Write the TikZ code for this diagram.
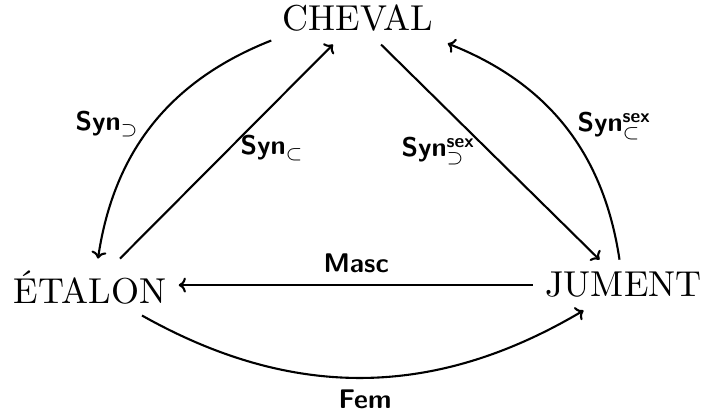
\documentclass[tikz,border=0pt]{standalone}
\usepackage{amsmath}
\usetikzlibrary{arrows.meta}
\begin{document}
\begin{tikzpicture}[x=1pt,y=1pt,
  obj/.style={scale=3.6, anchor=base},
  lab/.style={scale=2.7, anchor=base west, inner sep=0pt, font=\sffamily\bfseries},
  arr/.style={line width=2.1pt, -{Computer Modern Rightarrow[scale=1.15]}}]
\useasboundingbox (0,0) rectangle (705,415);
\node[obj] (cheval) at (358,384) {CHEVAL};
\node[obj] (etalon) at (90,111) {ÉTALON};
\node[obj] (jument) at (623.5,118) {JUMENT};
% arrows
\draw[arr] ([xshift=1pt,yshift=4pt]cheval.south west) to[bend right=30] ([xshift=8pt]etalon.north);
\draw[arr] ([xshift=30pt]etalon.north) -- ([xshift=-25pt]cheval.south);
\draw[arr] ([xshift=23pt]cheval.south) -- ([xshift=-24pt]jument.north);
\draw[arr] ([xshift=-4pt]jument.north) to[bend right=30] ([xshift=2pt,yshift=1pt]cheval.south east);
\draw[arr] (jument.west) -- (jument.west -| etalon.east);
\draw[arr] ([xshift=52pt,yshift=2pt]etalon.south) to[bend right=30] ([xshift=-40pt]jument.south);
% labels
\node[lab] (l1) at (75,284) {Syn$_{\supset}$};
\node[lab] (l2) at (240,260) {Syn$_{\subset}$};
\node[lab] (l3) at (401,258) {Syn$^{\text{sex}}_{\supset}$};
\node[lab] (l4) at (577,283) {Syn$^{\text{sex}}_{\subset}$};
\node[lab] (l5) at (323,142) {Masc};
\node[lab] (l6) at (338,6) {Fem};
\end{tikzpicture}
\end{document}
